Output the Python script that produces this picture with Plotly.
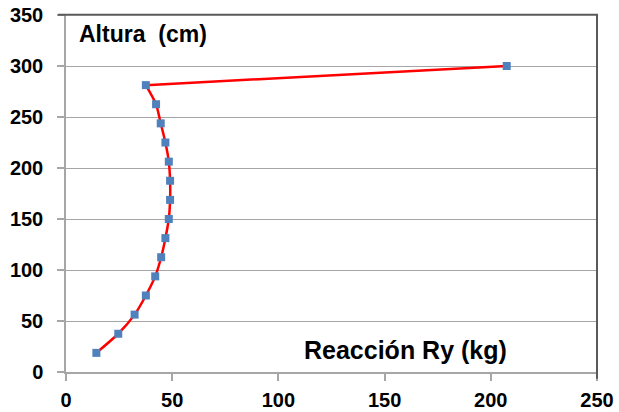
import plotly.graph_objects as go

reaccion_ry = [14.3, 24.6, 32.3, 37.6, 42.0, 44.8, 46.8, 48.4, 49.0, 49.0, 48.4, 46.8, 44.6, 42.4, 37.6, 207.5]
altura = [18.75, 37.5, 56.25, 75, 93.75, 112.5, 131.25, 150, 168.75, 187.5, 206.25, 225, 243.75, 262.5, 281.25, 300]
x_ticks = [0, 50, 100, 150, 200, 250]
y_ticks = [0, 50, 100, 150, 200, 250, 300, 350]

fig = go.Figure()
# smooth curve through the lower points
fig.add_trace(go.Scatter(
    x=reaccion_ry[:15], y=altura[:15], mode="lines",
    line=dict(color="#FF0000", width=2.5, shape="spline", smoothing=0.6),
    showlegend=False, hoverinfo="skip",
))
# nearly straight last segment
fig.add_trace(go.Scatter(
    x=reaccion_ry[14:], y=altura[14:], mode="lines",
    line=dict(color="#FF0000", width=2.5),
    showlegend=False, hoverinfo="skip",
))
fig.add_trace(go.Scatter(
    x=reaccion_ry, y=altura, mode="markers",
    marker=dict(symbol="square", size=8, color="#4F81BD"),
    showlegend=False,
))

tickfont = dict(family="Liberation Sans, Arial, sans-serif", size=20, color="black", weight="bold")
fig.update_layout(
    width=619, height=412,
    margin=dict(l=66, r=22, t=15, b=40, autoexpand=False),
    paper_bgcolor="white", plot_bgcolor="white",
    font=dict(family="Liberation Sans, Arial, sans-serif"),
    xaxis=dict(range=[0, 250], tickvals=x_ticks, showgrid=False, zeroline=False,
               showline=True, linecolor="#A6A6A6", linewidth=1.5,
               ticks="outside", ticklen=7, tickcolor="#A6A6A6", tickwidth=1.5,
               tickfont=tickfont, ticklabelstandoff=2, automargin=False),
    yaxis=dict(range=[0, 350], tickvals=y_ticks, showgrid=True, gridcolor="#A6A6A6", gridwidth=1,
               zeroline=False, showline=True, linecolor="#A6A6A6", linewidth=1.5,
               ticks="outside", ticklen=7, tickcolor="#A6A6A6", tickwidth=1.5,
               tickfont=tickfont, ticklabelstandoff=10, automargin=False),
    xaxis2=dict(overlaying="x", anchor="y", side="top", range=[0, 250], showgrid=False,
                zeroline=False, showline=True, linecolor="#5A5A5A", linewidth=2,
                showticklabels=False, ticks="", automargin=False),
    yaxis2=dict(overlaying="y", anchor="x", side="right", range=[0, 350], showgrid=False,
                zeroline=False, showline=True, linecolor="#5A5A5A", linewidth=2,
                showticklabels=False, ticks="", automargin=False),
    shapes=[
        dict(type="line", xref="paper", yref="paper", x0=-0.015, x1=1.002, y0=1.001, y1=1.001,
             line=dict(color="#5A5A5A", width=2), layer="above"),
        dict(type="line", xref="paper", yref="paper", x0=1, x1=1, y0=-0.019, y1=1.003,
             line=dict(color="#5A5A5A", width=2), layer="above"),
    ],
    annotations=[
        dict(text="<b>Altura\u00a0 (cm)</b>", xref="paper", yref="paper", x=0.02, y=0.99,
             xanchor="left", yanchor="top", showarrow=False,
             font=dict(size=23, color="black")),
        dict(text="<b>Reacción Ry (kg)</b>", xref="paper", yref="paper", x=0.834, y=0.018,
             xanchor="right", yanchor="bottom", showarrow=False,
             font=dict(size=25, color="black")),
    ],
)
fig.write_html("out.html", config={"displayModeBar": False},
               post_script="document.body.style.margin='0';")
